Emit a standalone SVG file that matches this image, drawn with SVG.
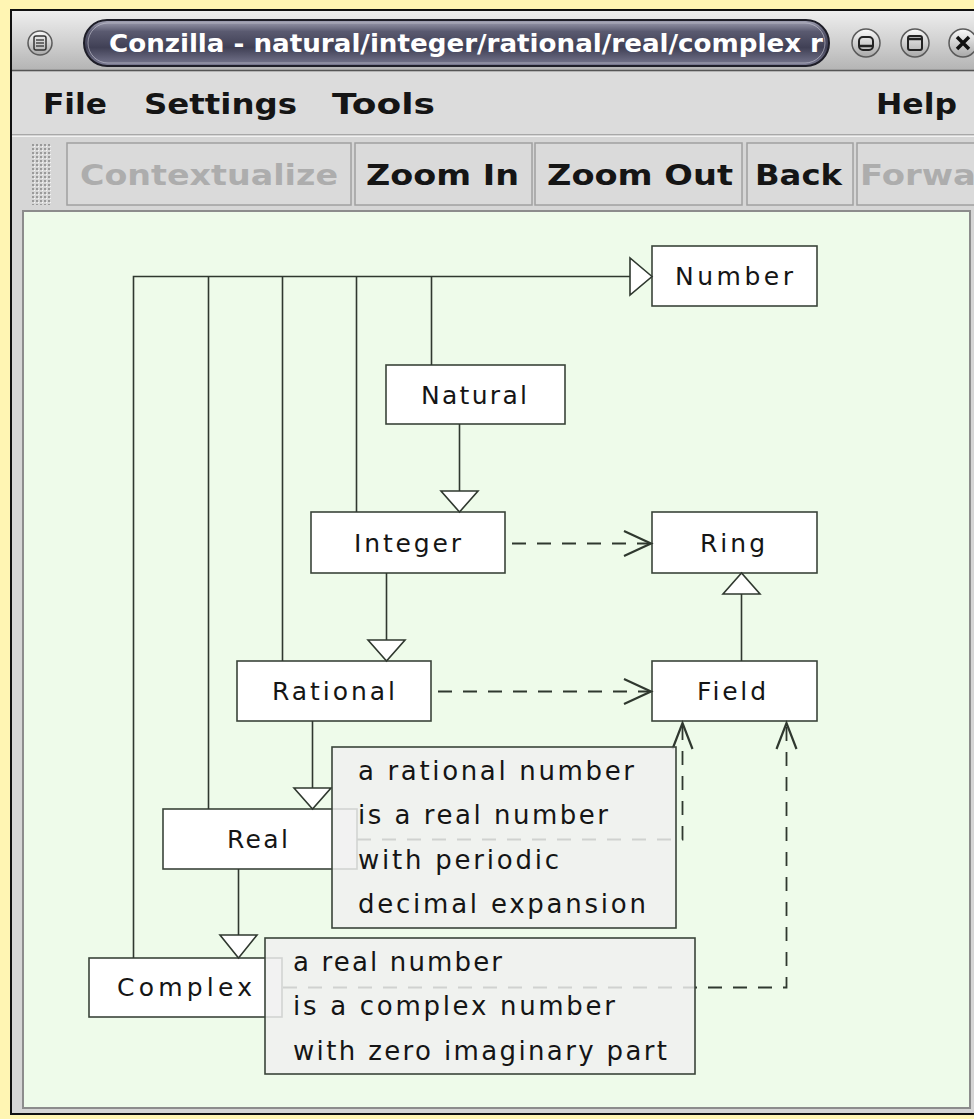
<svg xmlns="http://www.w3.org/2000/svg" width="974" height="1119" viewBox="0 0 974 1119">
<defs>
<style>
.node rect{fill:#ffffff;stroke:#3a443a;stroke-width:1.6}
.lbl{font-family:"DejaVu Sans",sans-serif;font-size:25px;fill:#151515}
.cmt rect{fill:#efefef;fill-opacity:0.84;stroke:#3a443a;stroke-width:1.6}
.ctext{font-family:"DejaVu Sans",sans-serif;font-size:26px;fill:#151515}
.ln{fill:none;stroke:#2f382f;stroke-width:1.6}
.dash{fill:none;stroke:#2f382f;stroke-width:1.8;stroke-dasharray:14 11}
.tri{fill:#ffffff;stroke:#2f382f;stroke-width:1.6;stroke-linejoin:miter}
.vee{fill:none;stroke:#2f382f;stroke-width:2.2}
.menu{font-family:"DejaVu Sans",sans-serif;font-weight:bold;font-size:29px;fill:#151515}
.tb{font-family:"DejaVu Sans",sans-serif;font-weight:bold;font-size:29px;fill:#151515}
.dis{fill:#adadad}
.btn{fill:#dadada;stroke:#a0a0a0;stroke-width:1.5}
.wbtn{fill:url(#wb);stroke:#5a5a5a;stroke-width:1.5}
</style>
<linearGradient id="tbar" x1="0" y1="0" x2="0" y2="1">
<stop offset="0" stop-color="#eeeeee"/><stop offset="0.5" stop-color="#d2d2d2"/><stop offset="1" stop-color="#b4b4b4"/>
</linearGradient>
<linearGradient id="pill" x1="0" y1="0" x2="0" y2="1">
<stop offset="0" stop-color="#a4a4b6"/><stop offset="0.25" stop-color="#5a5a70"/><stop offset="0.6" stop-color="#404055"/><stop offset="1" stop-color="#7a7a92"/>
</linearGradient>
<linearGradient id="wb" x1="0" y1="0" x2="0" y2="1">
<stop offset="0" stop-color="#fafafa"/><stop offset="1" stop-color="#a8a8a8"/>
</linearGradient>
<pattern id="grip" width="4" height="4" patternUnits="userSpaceOnUse">
<rect width="4" height="4" fill="#d6d6d6"/><rect width="2" height="2" fill="#9a9a9a"/><rect x="2" y="2" width="1" height="1" fill="#f6f6f6"/>
</pattern>
</defs>

<rect x="0" y="0" width="974" height="1119" fill="#fff5b3"/>

<g id="window">
<rect x="11" y="10" width="972" height="1104" fill="#d5d5d5" stroke="#111111" stroke-width="2"/>
<rect x="12" y="11" width="962" height="59" fill="url(#tbar)"/>
<line x1="12" y1="70.5" x2="974" y2="70.5" stroke="#555555" stroke-width="1.5"/>
<circle cx="40" cy="43" r="12" class="wbtn"/>
<rect x="34" y="36" width="12" height="14" rx="2" fill="none" stroke="#333" stroke-width="1.5"/>
<line x1="36" y1="40" x2="44" y2="40" stroke="#333" stroke-width="1.3"/>
<line x1="36" y1="43" x2="44" y2="43" stroke="#333" stroke-width="1.3"/>
<line x1="36" y1="46" x2="44" y2="46" stroke="#333" stroke-width="1.3"/>
<rect x="84" y="20" width="745" height="46" rx="23" fill="url(#pill)" stroke="#1e1e28" stroke-width="2"/>
<rect x="88" y="23" width="737" height="40" rx="20" fill="none" stroke="#c8c8d4" stroke-width="1" opacity="0.6"/>
<text x="109" y="52" font-family="DejaVu Sans Condensed, DejaVu Sans, sans-serif" font-weight="bold" font-size="24" fill="#ffffff" textLength="714" lengthAdjust="spacingAndGlyphs">Conzilla - natural/integer/rational/real/complex r</text>
<circle cx="866" cy="43" r="14" class="wbtn"/>
<rect x="859" y="37" width="14" height="13" rx="4" fill="none" stroke="#222" stroke-width="2"/>
<line x1="860" y1="46" x2="872" y2="46" stroke="#222" stroke-width="2.5"/>
<circle cx="915" cy="43" r="14" class="wbtn"/>
<rect x="908" y="36" width="14" height="14" rx="2" fill="none" stroke="#222" stroke-width="2"/>
<line x1="908" y1="39" x2="922" y2="39" stroke="#222" stroke-width="2.5"/>
<circle cx="963" cy="43" r="14" class="wbtn"/>
<path d="M957,37 L969,49 M969,37 L957,49" stroke="#111" stroke-width="3.5"/>

<rect x="12" y="72" width="962" height="62" fill="#dcdcdc"/>
<text class="menu" x="43" y="114" textLength="64" lengthAdjust="spacingAndGlyphs">File</text>
<text class="menu" x="144" y="114" textLength="153" lengthAdjust="spacingAndGlyphs">Settings</text>
<text class="menu" x="332" y="114" textLength="103" lengthAdjust="spacingAndGlyphs">Tools</text>
<text class="menu" x="876" y="114" textLength="81" lengthAdjust="spacingAndGlyphs">Help</text>
<line x1="12" y1="134.5" x2="974" y2="134.5" stroke="#a8a8a8" stroke-width="1.2"/>
<line x1="12" y1="136.5" x2="974" y2="136.5" stroke="#f2f2f2" stroke-width="1.2"/>
<rect x="12" y="137" width="962" height="73" fill="#d6d6d6"/>
<rect x="32" y="143" width="20" height="62" fill="url(#grip)"/>
<rect class="btn" x="67" y="143" width="284" height="62"/>
<rect class="btn" x="355" y="143" width="177" height="62"/>
<rect class="btn" x="535" y="143" width="207" height="62"/>
<rect class="btn" x="747" y="143" width="106" height="62"/>
<rect class="btn" x="857" y="143" width="130" height="62"/>
<text class="tb dis" x="80" y="185" textLength="258" lengthAdjust="spacingAndGlyphs">Contextualize</text>
<text class="tb" x="366" y="185" textLength="153" lengthAdjust="spacingAndGlyphs">Zoom In</text>
<text class="tb" x="547" y="185" textLength="186" lengthAdjust="spacingAndGlyphs">Zoom Out</text>
<text class="tb" x="755" y="185" textLength="87" lengthAdjust="spacingAndGlyphs">Back</text>
<text class="tb dis" x="860" y="185" textLength="116" lengthAdjust="spacingAndGlyphs">Forwa</text>
<rect x="23" y="211" width="947" height="897" fill="#eefbea" stroke="#8c8c8c" stroke-width="2"/>
</g>

<g id="node-number" class="node"><rect x="652" y="246" width="165" height="60"/><text class="lbl" x="675" y="285" textLength="118" lengthAdjust="spacing">Number</text></g>
<g id="node-natural" class="node"><rect x="386" y="365" width="179" height="59"/><text class="lbl" x="421" y="404" textLength="106" lengthAdjust="spacing">Natural</text></g>
<g id="node-integer" class="node"><rect x="311" y="512" width="194" height="61"/><text class="lbl" x="354" y="552" textLength="107" lengthAdjust="spacing">Integer</text></g>
<g id="node-ring" class="node"><rect x="652" y="512" width="165" height="61"/><text class="lbl" x="700" y="552" textLength="65" lengthAdjust="spacing">Ring</text></g>
<g id="node-rational" class="node"><rect x="237" y="661" width="194" height="60"/><text class="lbl" x="272" y="700" textLength="123" lengthAdjust="spacing">Rational</text></g>
<g id="node-field" class="node"><rect x="652" y="661" width="165" height="60"/><text class="lbl" x="697" y="700" textLength="69" lengthAdjust="spacing">Field</text></g>
<g id="node-real" class="node"><rect x="163" y="809" width="194" height="60"/><text class="lbl" x="227" y="848" textLength="61" lengthAdjust="spacing">Real</text></g>
<g id="node-complex" class="node"><rect x="89" y="958" width="193" height="59"/><text class="lbl" x="117" y="996" textLength="135" lengthAdjust="spacing">Complex</text></g>

<g id="connectors">
<path class="ln" d="M133.5,958 V276.5 H631"/>
<path class="ln" d="M208.5,276.5 V809"/>
<path class="ln" d="M282.5,276.5 V661"/>
<path class="ln" d="M356.5,276.5 V512"/>
<path class="ln" d="M431.5,276.5 V365"/>
<polygon class="tri" points="652,276.5 630,258 630,295"/>
<path class="ln" d="M459.5,424 V491"/>
<polygon class="tri" points="459.5,512 441,491 478,491"/>
<path class="ln" d="M386.5,573 V640"/>
<polygon class="tri" points="386.5,661 368,640 405,640"/>
<path class="ln" d="M312.5,721 V788"/>
<polygon class="tri" points="312.5,809 294,788 331,788"/>
<path class="ln" d="M238.5,869 V935"/>
<polygon class="tri" points="238.5,958 220,935 257,935"/>
<path class="ln" d="M741.5,661 V594"/>
<polygon class="tri" points="741.5,573 723,594 760,594"/>
<path class="dash" d="M512,543.5 H650"/>
<path class="vee" d="M624,531 L651,543.5 L624,556"/>
<path class="dash" d="M438,691.5 H650"/>
<path class="vee" d="M624,679 L651,691.5 L624,704"/>
<path class="dash" d="M357,839.5 H682.5 V724"/>
<path class="vee" d="M672.5,749 L682.5,723 L692.5,749"/>
<path class="dash" d="M283,987.5 H786.5 V724"/>
<path class="vee" d="M776.5,749 L786.5,723 L796.5,749"/>
</g>

<g id="comment-rational-real" class="cmt">
<rect x="332" y="747" width="344" height="181"/>
<text class="ctext" x="358" y="780" textLength="276" lengthAdjust="spacing">a rational number</text>
<text class="ctext" x="358" y="824" textLength="250" lengthAdjust="spacing">is a real number</text>
<text class="ctext" x="358" y="869" textLength="201" lengthAdjust="spacing">with periodic</text>
<text class="ctext" x="358" y="913" textLength="288" lengthAdjust="spacing">decimal expansion</text>
</g>
<g id="comment-real-complex" class="cmt">
<rect x="265" y="938" width="430" height="136"/>
<text class="ctext" x="293" y="971" textLength="209" lengthAdjust="spacing">a real number</text>
<text class="ctext" x="293" y="1015" textLength="322" lengthAdjust="spacing">is a complex number</text>
<text class="ctext" x="293" y="1060" textLength="374" lengthAdjust="spacing">with zero imaginary part</text>
</g>
</svg>
